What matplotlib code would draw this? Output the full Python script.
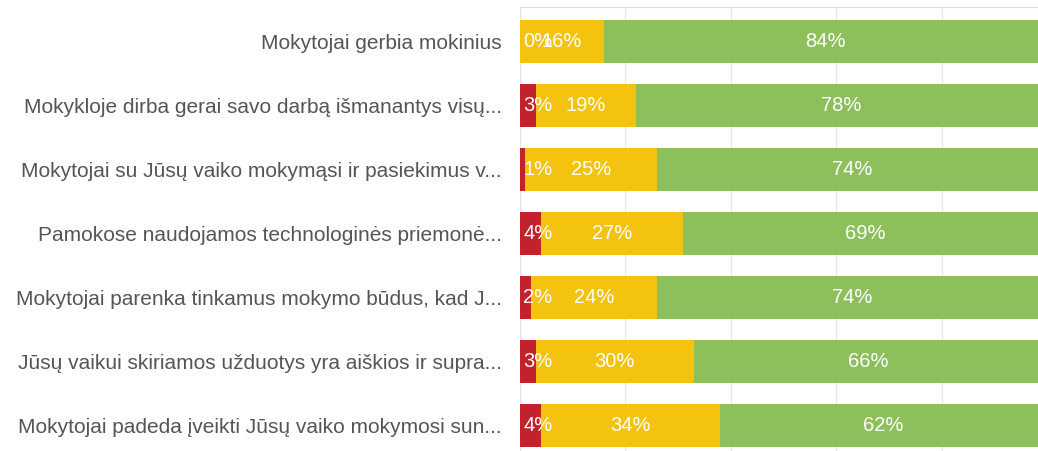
import matplotlib.pyplot as plt

categories = [
    'Mokytojai gerbia mokinius',
    'Mokykloje dirba gerai savo darbą išmanantys visų...',
    'Mokytojai su Jūsų vaiko mokymąsi ir pasiekimus v...',
    'Pamokose naudojamos technologinės priemonė...',
    'Mokytojai parenka tinkamus mokymo būdus, kad J...',
    'Jūsų vaikui skiriamos užduotys yra aiškios ir supra...',
    'Mokytojai padeda įveikti Jūsų vaiko mokymosi sun...',
]
red = [0, 3, 1, 4, 2, 3, 4]
yellow = [16, 19, 25, 27, 24, 30, 34]
green = [84, 78, 74, 69, 74, 66, 62]

plt.rcParams['font.family'] = ['Liberation Sans', 'DejaVu Sans']

fig = plt.figure(figsize=(10.38, 4.51), dpi=100)
ax = fig.add_axes([520 / 1038, 0, 527 / 1038, 1 - 7 / 451])

y = list(range(len(categories)))
h = 0.67
c_red, c_yel, c_grn = '#C1222B', '#F3C30F', '#8DC05B'
ax.barh(y, red, height=h, color=c_red, zorder=2)
left2 = red
ax.barh(y, yellow, left=left2, height=h, color=c_yel, zorder=2)
left3 = [r + yl for r, yl in zip(red, yellow)]
ax.barh(y, green, left=left3, height=h, color=c_grn, zorder=2)

kw = dict(color='white', fontsize=14.5, va='center', zorder=3)
for i in y:
    ax.text(0.6, i, f'{red[i]}%', ha='left', **kw)
    ax.text(red[i] + yellow[i] / 2, i, f'{yellow[i]}%', ha='center', **kw)
    ax.text(left3[i] + green[i] / 2, i, f'{green[i]}%', ha='center', **kw)

ax.set_xlim(0, 100)
ax.set_ylim(6.40, -0.54)
ax.set_xticks([0, 20, 40, 60, 80, 100])
ax.set_xticklabels([])
ax.grid(axis='x', color='#e6e6e6', linewidth=1, zorder=0)
ax.set_yticks(y)
ax.set_yticklabels(categories, fontsize=15, color='#555555')
ax.tick_params(axis='both', length=0)
ax.tick_params(axis='y', pad=13)
for s in ['left', 'right', 'bottom']:
    ax.spines[s].set_visible(False)
ax.spines['top'].set_color('#dddddd')

fig.savefig('out.png', dpi=100)
